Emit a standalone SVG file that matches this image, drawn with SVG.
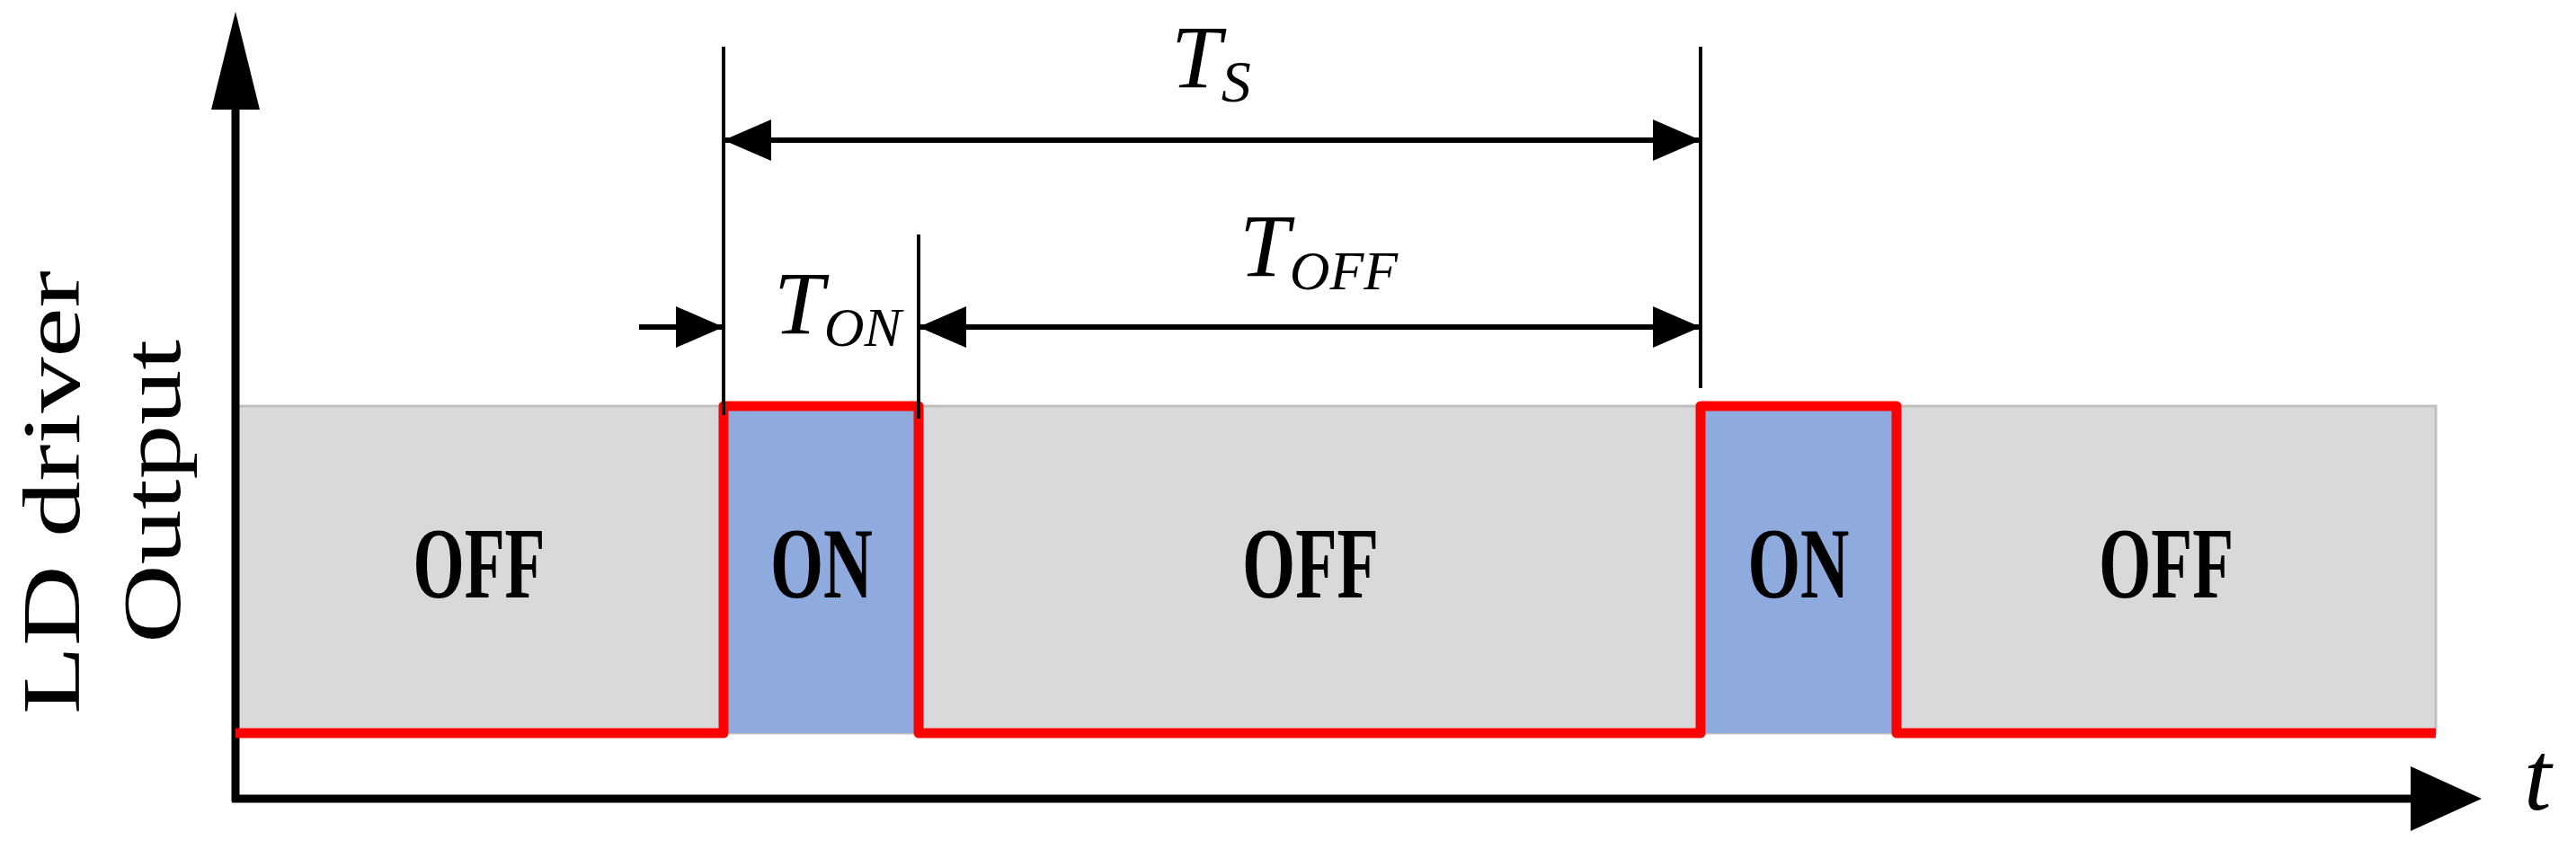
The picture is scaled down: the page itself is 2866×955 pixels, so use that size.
<svg xmlns="http://www.w3.org/2000/svg" width="2866" height="955" viewBox="0 0 2866 955">
<style>
.lbl{font-family:"Liberation Serif","Times New Roman",serif;font-weight:bold;font-size:112px;fill:#000;text-anchor:middle}
.it{font-family:"Liberation Serif","Times New Roman",serif;font-style:italic;fill:#000}
.ax{font-family:"Liberation Serif","Times New Roman",serif;font-size:92px;fill:#000;text-anchor:middle}
.dim{stroke:#000;stroke-width:6;fill:none}
.thin{stroke:#000;stroke-width:4;fill:none}
</style>
<defs>
<marker id="ah" viewBox="0 0 53 46" refX="53" refY="23" markerWidth="53" markerHeight="46" markerUnits="userSpaceOnUse" orient="auto-start-reverse"><path d="M0,0L53,23L0,46Z" fill="#000"/></marker>
</defs>
<g id="background">
<rect x="262" y="452" width="2448" height="364" fill="#d9d9d9" stroke="#bfbfbf" stroke-width="3"/>
<rect id="on1" x="805" y="452" width="217" height="364" fill="#8faadc"/>
<rect id="on2" x="1892" y="452" width="218" height="364" fill="#8faadc"/>
</g>
<g id="axes">
<line x1="262" y1="120" x2="262" y2="892" stroke="#000" stroke-width="9"/>
<path d="M262,13L289,122L235,122Z" fill="#000"/>
<line x1="258" y1="889" x2="2690" y2="889" stroke="#000" stroke-width="9"/>
<path d="M2761,889L2682,853L2682,925Z" fill="#000"/>
</g>
<g id="signal">
<path d="M262,816H805V452H1022V816H1892V452H2110V816H2710" fill="none" stroke="#f00" stroke-width="11" stroke-linejoin="round"/>
</g>
<g id="connectors">
<line class="thin" x1="805" y1="52" x2="805" y2="462"/>
<line class="thin" x1="1022" y1="261" x2="1022" y2="466"/>
<line class="thin" x1="1892" y1="52" x2="1892" y2="432"/>
<line class="dim" x1="805" y1="156" x2="1892" y2="156" marker-start="url(#ah)" marker-end="url(#ah)"/>
<line class="dim" x1="1022" y1="364" x2="1892" y2="364" marker-start="url(#ah)" marker-end="url(#ah)"/>
<line class="dim" x1="711" y1="364" x2="805" y2="364" marker-end="url(#ah)"/>
</g>
<g id="labels">
<text class="lbl" x="533" y="665" textLength="147" lengthAdjust="spacingAndGlyphs">OFF</text>
<text class="lbl" x="914" y="665" textLength="114" lengthAdjust="spacingAndGlyphs">ON</text>
<text class="lbl" x="1458" y="665" textLength="152" lengthAdjust="spacingAndGlyphs">OFF</text>
<text class="lbl" x="2001" y="665" textLength="113" lengthAdjust="spacingAndGlyphs">ON</text>
<text class="lbl" x="2410" y="665" textLength="150" lengthAdjust="spacingAndGlyphs">OFF</text>
<text class="it" x="1303" y="97" font-size="100">T<tspan font-size="66" dy="16">S</tspan></text>
<text class="it" x="1379" y="307" font-size="100">T<tspan font-size="62" dy="15">OFF</tspan></text>
<text class="it" x="861" y="371" font-size="100">T<tspan font-size="62" dy="14">ON</tspan></text>
<text class="it" x="2808" y="901" font-size="110">t</text>
<text class="ax" transform="translate(88,548) rotate(-90)" textLength="494" lengthAdjust="spacingAndGlyphs">LD driver</text>
<text class="ax" transform="translate(200,547) rotate(-90)" textLength="338" lengthAdjust="spacingAndGlyphs">Output</text>
</g>
</svg>
